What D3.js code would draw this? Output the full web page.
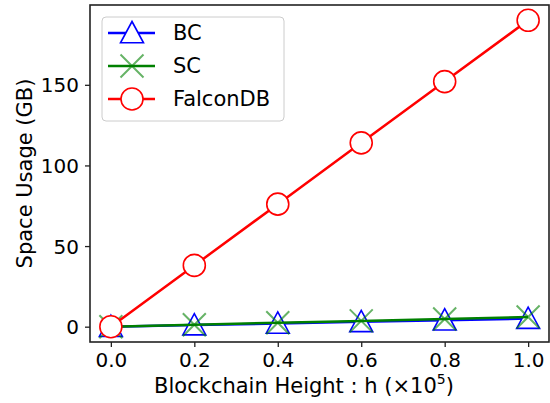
<!DOCTYPE html>
<html>
<head>
<meta charset="utf-8">
<script src="https://cdn.jsdelivr.net/npm/d3@7"></script>
<style>
  body { margin: 0; background: #fff; }
  text { font-family: "DejaVu Sans", sans-serif; fill: #000; }
</style>
</head>
<body>
<div id="chart"></div>
<script>
// chart values
const heights = [0.0, 0.2, 0.4, 0.6, 0.8, 1.0];
const bcUsage = [0, 1, 2, 3, 4, 5];
const scUsage = [0, 1.2, 2.4, 3.6, 4.8, 6];
const falconUsage = [0, 38, 76, 114, 152, 190];
const xTicks = [0.0, 0.2, 0.4, 0.6, 0.8, 1.0];
const yTicks = [0, 50, 100, 150];
const seriesNames = ["BC", "SC", "FalconDB"];

const W = 550, H = 403;
const margin = { top: 5, right: 1, bottom: 61, left: 90 };
const width = W - margin.left - margin.right;
const height = H - margin.top - margin.bottom;

const svg = d3.select("#chart").append("svg")
    .attr("width", W)
    .attr("height", H);

const g = svg.append("g")
    .attr("transform", `translate(${margin.left},${margin.top})`);

// matplotlib style 5% padding
const x = d3.scaleLinear().domain([-0.05, 1.05]).range([0, width]);
const y = d3.scaleLinear().domain([-9.5, 199.5]).range([height, 0]);

const series = [
    { name: seriesNames[0], values: bcUsage, color: "#0000ff", marker: "tri" },
    { name: seriesNames[1], values: scUsage, color: "#008000", marker: "x" },
    { name: seriesNames[2], values: falconUsage, color: "#ff0000", marker: "circle" }
];

const line = d3.line()
    .x((d, i) => x(heights[i]))
    .y(d => y(d));

function drawMarker(sel, type, color) {
    if (type === "tri") {
        const s = 11.5;
        sel.append("path")
            .attr("d", `M0,${-s}L${s},${s * 0.85}L${-s},${s * 0.85}Z`)
            .attr("fill", "#fff")
            .attr("stroke", color)
            .attr("stroke-width", 1.6);
    } else if (type === "x") {
        const s = 11.5;
        sel.append("path")
            .attr("d", `M${-s},${-s}L${s},${s}M${-s},${s}L${s},${-s}`)
            .attr("fill", "none")
            .attr("stroke", color)
            .attr("stroke-opacity", 0.6)
            .attr("stroke-width", 2);
    } else {
        sel.append("circle")
            .attr("r", 11)
            .attr("fill", "#fff")
            .attr("stroke", color)
            .attr("stroke-width", 1.6);
    }
}

// lines and markers
series.forEach(s => {
    g.append("path")
        .datum(s.values)
        .attr("fill", "none")
        .attr("stroke", s.color)
        .attr("stroke-width", 2.5)
        .attr("d", line);
    s.values.forEach((v, i) => {
        const m = g.append("g").attr("transform", `translate(${x(heights[i])},${y(v)})`);
        drawMarker(m, s.marker, s.color);
    });
});

// axes
const xAxis = g.append("g")
    .attr("transform", `translate(0,${height})`)
    .call(d3.axisBottom(x).tickValues(xTicks).tickFormat(d3.format(".1f")).tickSize(5).tickPadding(6));
const yAxis = g.append("g")
    .call(d3.axisLeft(y).tickValues(yTicks).tickFormat(d3.format("d")).tickSize(5).tickPadding(6));

[xAxis, yAxis].forEach(a => {
    a.select(".domain").remove();
    a.selectAll("text").style("font-size", "20px").attr("fill", "#111");
    a.selectAll("line").attr("stroke", "#222").attr("stroke-width", 1.3);
});
xAxis.selectAll("text").attr("dy", "0.72em");
yAxis.selectAll("text").attr("dy", "0.35em");

// frame
g.append("rect")
    .attr("x", 0).attr("y", 0)
    .attr("width", width).attr("height", height)
    .attr("fill", "none")
    .attr("stroke", "#222")
    .attr("stroke-width", 1.6);

// axis labels
svg.append("text")
    .attr("x", 304)
    .attr("y", 393)
    .attr("text-anchor", "middle")
    .style("font-size", "21px")
    .attr("fill", "#222")
    .html('Blockchain Height : h (×10<tspan dy="-9" font-size="14px">5</tspan><tspan dy="9">)</tspan>');

svg.append("text")
    .attr("transform", `translate(32,${margin.top + height / 2}) rotate(-90)`)
    .attr("text-anchor", "middle")
    .style("font-size", "21px")
    .attr("fill", "#222")
    .text("Space Usage (GB)");

// legend
const legend = svg.append("g").attr("transform", "translate(102,17)");
legend.append("rect")
    .attr("width", 182).attr("height", 104)
    .attr("rx", 4)
    .attr("fill", "#fff").attr("fill-opacity", 0.8)
    .attr("stroke", "#ccc");

series.forEach((s, i) => {
    const row = legend.append("g").attr("transform", `translate(0,${16 + i * 33})`);
    row.append("line")
        .attr("x1", 6).attr("x2", 53)
        .attr("stroke", s.color).attr("stroke-width", 2.5);
    const m = row.append("g").attr("transform", "translate(30,0)");
    drawMarker(m, s.marker, s.color);
    row.append("text")
        .attr("x", 71).attr("dy", "0.35em")
        .style("font-size", "21px")
        .attr("fill", "#222")
        .text(s.name);
});
</script>
</body>
</html>
